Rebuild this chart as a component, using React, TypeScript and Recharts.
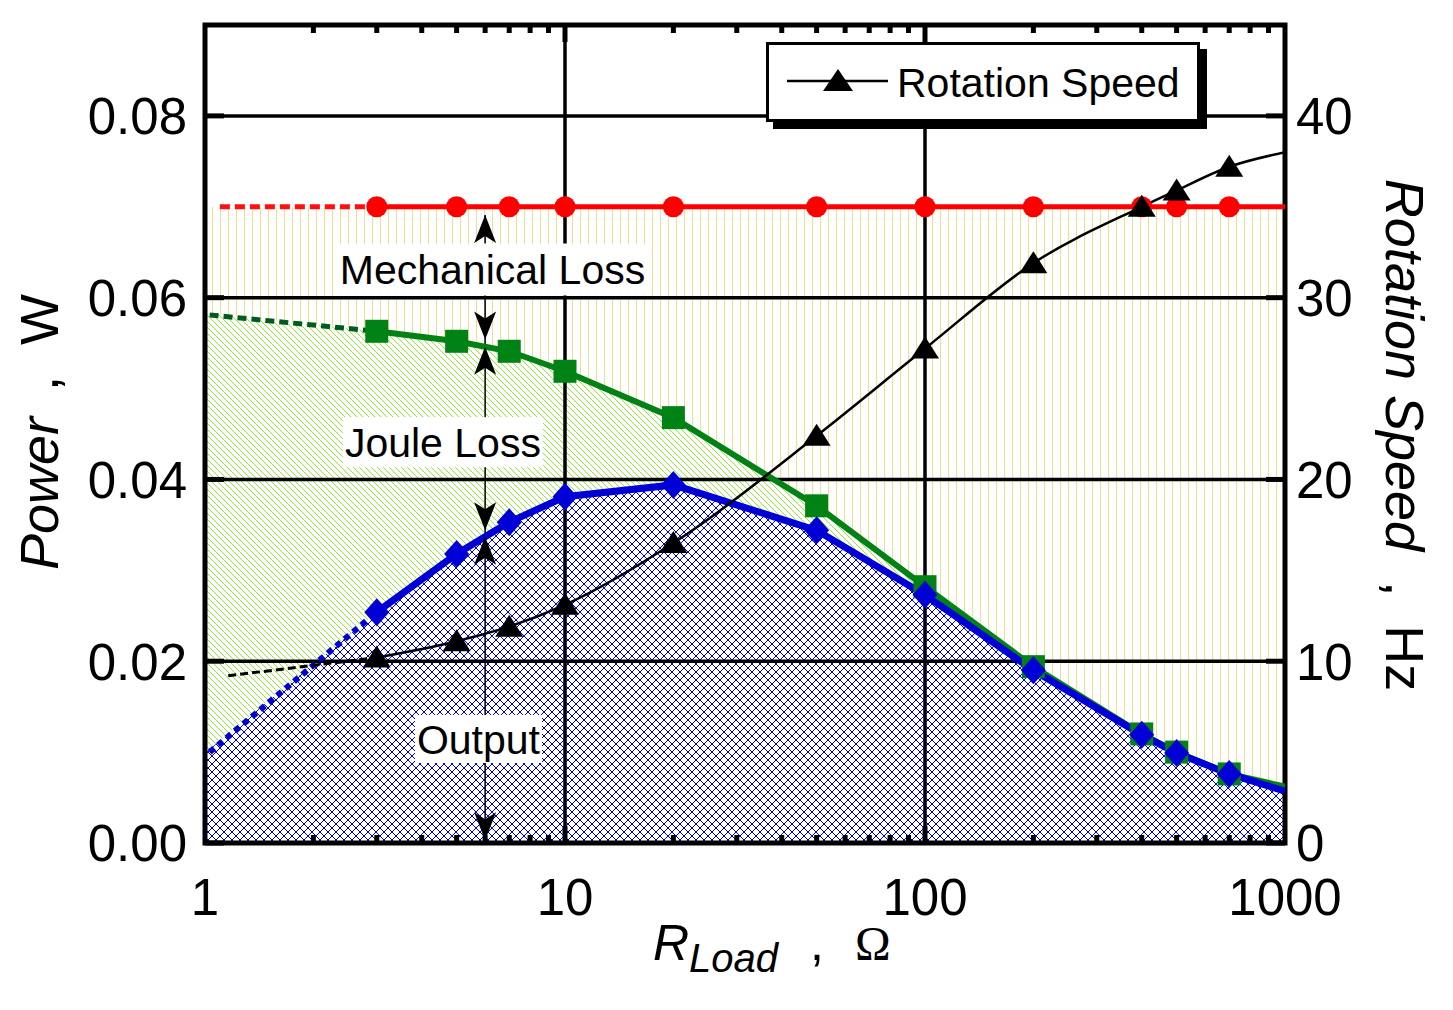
import React from "react"
import {
  ComposedChart,
  Area,
  Line,
  XAxis,
  YAxis,
  ReferenceLine,
  ReferenceArea,
  ReferenceDot,
  Legend,
  Label,
} from "recharts"

// measured load resistances, ohm
const rLoad = [3, 5, 7, 10, 20, 50, 100, 200, 400, 500, 700]
// input power, W (red)
const inputPower = [0.07, 0.07, 0.07, 0.07, 0.07, 0.07, 0.07, 0.07, 0.07, 0.07, 0.07]
// output + joule loss, W (green)
const outputJoule = [0.0563, 0.0552, 0.0541, 0.0519, 0.0468, 0.0371, 0.0282, 0.0194, 0.012, 0.01, 0.0076]
// output power, W (blue)
const outputPower = [0.0254, 0.0318, 0.0353, 0.0381, 0.0394, 0.0344, 0.0273, 0.019, 0.0119, 0.0099, 0.0076]
// rotation speed, Hz (black)
const rotationSpeed = [10.2, 11.1, 11.9, 13.1, 16.5, 22.4, 27.2, 31.9, 35.0, 35.9, 37.2]

// where the curves run into the right frame
const edgeR = 1000
const edgeInput = 0.07
const edgeOutputJoule = 0.0062
const edgeOutput = 0.0057
const edgeSpeed = 38.0

// extrapolated parts towards R = 1
const extInputR = [1.1, 3]
const extInput = [0.07, 0.07]
const extOutputJouleR = [1.03, 3]
const extOutputJoule = [0.0581, 0.0563]
const extOutputR = [1.03, 3]
const extOutput = [0.01, 0.0254]
const extSpeedR = [1.16, 3]
const extSpeed = [9.2, 10.2]

// shaded bands start at the left frame
const fillStartR = 1
const fillStartOutputJoule = 0.0583
const fillStartOutput = 0.0099

const xMajor = [1, 10, 100, 1000]
const xMinorSteps = [2, 3, 4, 5, 6, 7, 8, 9]
const powerTicks = [0, 0.02, 0.04, 0.06, 0.08]
const speedTicks = [0, 10, 20, 30, 40]
const powerGrid = [0.02, 0.04, 0.06, 0.08]
const rGrid = [10, 100]

// the double arrows at R = 6
const arrowR = 6
const arrowTop = 0.0691
const arrowBottom = 0.0003
const arrowTips = [
  { p: 0.0691, dir: "up" },
  { p: 0.0554, dir: "down" },
  { p: 0.0546, dir: "up" },
  { p: 0.0344, dir: "down" },
  { p: 0.0337, dir: "up" },
  { p: 0.0003, dir: "down" },
]

const notes = [
  { text: "Mechanical Loss", r: 6.29, p: 0.0631, w: 309, h: 52 },
  { text: "Joule Loss", r: 4.58, p: 0.0441, w: 200, h: 50 },
  { text: "Output", r: 5.75, p: 0.01144, w: 127, h: 48 },
]

const FONT = '"Liberation Sans", Arial, Helvetica, sans-serif'
const W = 1437
const H = 994
const TOP = 17
const LEFT_W = 197
const RIGHT_W = 160
const BOTTOM_H = 159
const PLOT_H = H - TOP - BOTTOM_H

const xTicks = [
  ...xMajor,
  ...xMajor.slice(0, 3).flatMap((d) => xMinorSteps.map((s) => s * d)),
].sort((a, b) => a - b)

const lineRows = [
  ...rLoad.map((r, i) => ({
    r,
    input: inputPower[i],
    green: outputJoule[i],
    blue: outputPower[i],
    speed: rotationSpeed[i],
    marked: true,
  })),
  { r: edgeR, input: edgeInput, green: edgeOutputJoule, blue: edgeOutput, speed: edgeSpeed, marked: false },
]

const fillRows = [
  { r: fillStartR, input: edgeInput, green: fillStartOutputJoule, blue: fillStartOutput },
  ...lineRows,
]

const extRows = (rs: number[], vs: number[]) => rs.map((r, i) => ({ r, v: vs[i] }))

const circleDot = (p: any) =>
  p.payload.marked ? <circle key={p.index} cx={p.cx} cy={p.cy} r={10.5} fill="#ff0000" /> : <g key={p.index} />

const squareDot = (p: any) =>
  p.payload.marked ? (
    <rect key={p.index} x={p.cx - 11.5} y={p.cy - 11.5} width={23} height={23} fill="#008214" />
  ) : (
    <g key={p.index} />
  )

const diamondDot = (p: any) =>
  p.payload.marked ? (
    <path
      key={p.index}
      d={`M${p.cx},${p.cy - 14} L${p.cx + 12.5},${p.cy} L${p.cx},${p.cy + 14} L${p.cx - 12.5},${p.cy} Z`}
      fill="#0000d6"
    />
  ) : (
    <g key={p.index} />
  )

const triangleDot = (p: any) =>
  p.payload.marked ? (
    <path
      key={p.index}
      d={`M${p.cx},${p.cy - 12} L${p.cx + 14},${p.cy + 10} L${p.cx - 14},${p.cy + 10} Z`}
      fill="#000"
    />
  ) : (
    <g key={p.index} />
  )

const XTick = ({ x, y, payload }: any) => {
  const v = payload.value
  const major = xMajor.includes(v)
  const len = major ? 17 : 8
  const edge = v === 1 || v === 1000
  return (
    <g>
      {!edge && <line x1={x} x2={x} y1={y} y2={y - len} stroke="#000" strokeWidth={5} />}
      {!edge && <line x1={x} x2={x} y1={y - PLOT_H} y2={y - PLOT_H + len} stroke="#000" strokeWidth={5} />}
      {major && (
        <text x={x} y={y + 72} textAnchor="middle" fontFamily={FONT} fontSize={51} fill="#000">
          {v}
        </text>
      )}
    </g>
  )
}

const PowerTick = ({ x, y, payload }: any) => (
  <g>
    <line x1={x} x2={x + 19} y1={y} y2={y} stroke="#000" strokeWidth={5} />
    <text x={x - 18} y={y} dy="0.36em" textAnchor="end" fontFamily={FONT} fontSize={51} fill="#000">
      {payload.value.toFixed(2)}
    </text>
  </g>
)

const SpeedTick = ({ x, y, payload }: any) => (
  <g>
    <line x1={x} x2={x - 19} y1={y} y2={y} stroke="#000" strokeWidth={5} />
    <text x={x + 11} y={y} dy="0.36em" textAnchor="start" fontFamily={FONT} fontSize={51} fill="#000">
      {payload.value}
    </text>
  </g>
)

const PowerTitle = (props: any) => {
  const vb = props.viewBox
  const cx = vb.x + 31
  const cy = vb.y + vb.height / 2 - 2
  return (
    <text
      x={cx}
      y={cy}
      transform={`rotate(-90, ${cx}, ${cy})`}
      textAnchor="middle"
      dominantBaseline="central"
      fontFamily={FONT}
      fontSize={54}
      fill="#000"
    >
      <tspan fontStyle="italic">Power</tspan>
      <tspan dx={26}>,</tspan>
      <tspan dx={31}>W</tspan>
    </text>
  )
}

const SpeedTitle = (props: any) => {
  const vb = props.viewBox
  const cx = vb.x + 120
  const cy = vb.y + vb.height / 2 + 1
  return (
    <text
      x={cx}
      y={cy}
      transform={`rotate(90, ${cx}, ${cy})`}
      textAnchor="middle"
      dominantBaseline="central"
      fontFamily={FONT}
      fontSize={54}
      fill="#000"
    >
      <tspan fontStyle="italic">Rotation Speed</tspan>
      <tspan dx={30}>,</tspan>
      <tspan dx={29}>Hz</tspan>
    </text>
  )
}

const LoadTitle = (props: any) => {
  const vb = props.viewBox
  return (
    <text x={vb.x + 448} y={vb.y + 117} fontFamily={FONT} fill="#000">
      <tspan fontStyle="italic" fontSize={50}>R</tspan>
      <tspan fontStyle="italic" fontSize={40} dy={12}>Load</tspan>
      <tspan fontSize={50} dx={32} dy={-12}>,</tspan>
      <tspan fontFamily='"Liberation Serif", "Times New Roman", serif' fontSize={48} dx={31}>
        Ω
      </tspan>
    </text>
  )
}

const ArrowHead = ({ cx, cy, dir }: any) => {
  const s = dir === "up" ? 1 : -1
  return (
    <path
      d={`M${cx},${cy} L${cx + 11},${cy + s * 28} L${cx},${cy + s * 21} L${cx - 11},${cy + s * 28} Z`}
      fill="#000"
    />
  )
}

const NoteBox = ({ cx, cy, text, w, h }: any) => (
  <g>
    <rect x={cx - w / 2} y={cy - h / 2} width={w} height={h} fill="#fff" />
    <text x={cx} y={cy} dy="0.36em" textAnchor="middle" fontFamily={FONT} fontSize={41} fill="#000">
      {text}
    </text>
  </g>
)

const SpeedLegend = () => (
  <div
    style={{
      width: 434,
      height: 80,
      boxSizing: "border-box",
      border: "3px solid #000",
      background: "#fff",
      boxShadow: "7px 7px 0 #000",
    }}
  >
    <svg width={428} height={74} style={{ display: "block" }}>
      <line x1={18} x2={119} y1={36} y2={36} stroke="#000" strokeWidth={2.5} />
      <path d="M69,24 L84,46 L54,46 Z" fill="#000" />
      <text x={128} y={52} fontFamily={FONT} fontSize={41} fill="#000">
        Rotation Speed
      </text>
    </svg>
  </div>
)

export default function App() {
  return (
    <div style={{ width: W, height: H }}>
      <ComposedChart width={W} height={H} margin={{ top: TOP, right: 0, bottom: 0, left: 0 }}>
        <defs>
          <pattern id="hatchYellow" patternUnits="userSpaceOnUse" width={8} height={8}>
            <rect x={4} y={0} width={1} height={8} fill="#f5db8c" />
          </pattern>
          <pattern id="hatchGreen" patternUnits="userSpaceOnUse" width={6} height={6}>
            <path
              d="M-1,-1 L7,7 M-1,5 L1,7 M5,-1 L7,1"
              stroke="#8cef2c"
              strokeWidth={1}
              shapeRendering="crispEdges"
            />
          </pattern>
          <pattern id="hatchBlue" patternUnits="userSpaceOnUse" width={8} height={8}>
            <path
              d="M-1,-1 L9,9 M-1,7 L1,9 M7,-1 L9,1 M-1,9 L9,-1 M-1,1 L1,-1 M7,9 L9,7"
              stroke="#0000e0"
              strokeWidth={1}
              shapeRendering="crispEdges"
            />
          </pattern>
        </defs>

        <XAxis
          dataKey="r"
          type="number"
          scale="log"
          domain={[1, 1000]}
          ticks={xTicks}
          interval={0}
          height={BOTTOM_H}
          axisLine={false}
          tickLine={false}
          tickSize={0}
          tickMargin={0}
          tick={<XTick />}
          allowDataOverflow
        >
          <Label content={<LoadTitle />} />
        </XAxis>
        <YAxis
          yAxisId="p"
          orientation="left"
          type="number"
          domain={[0, 0.09]}
          ticks={powerTicks}
          interval={0}
          width={LEFT_W}
          axisLine={false}
          tickLine={false}
          tickSize={0}
          tickMargin={0}
          tick={<PowerTick />}
          allowDataOverflow
        >
          <Label content={<PowerTitle />} />
        </YAxis>
        <YAxis
          yAxisId="s"
          orientation="right"
          type="number"
          domain={[0, 45]}
          ticks={speedTicks}
          interval={0}
          width={RIGHT_W}
          axisLine={false}
          tickLine={false}
          tickSize={0}
          tickMargin={0}
          tick={<SpeedTick />}
          allowDataOverflow
        >
          <Label content={<SpeedTitle />} />
        </YAxis>

        <Area
          yAxisId="p"
          data={fillRows}
          dataKey={(d: any) => [d.green, d.input]}
          type="linear"
          stroke="none"
          fill="url(#hatchYellow)"
          fillOpacity={1}
          isAnimationActive={false}
        />
        <Area
          yAxisId="p"
          data={fillRows}
          dataKey={(d: any) => [d.blue, d.green]}
          type="linear"
          stroke="none"
          fill="url(#hatchGreen)"
          fillOpacity={1}
          isAnimationActive={false}
        />
        <Area
          yAxisId="p"
          data={fillRows}
          dataKey={(d: any) => [0, d.blue]}
          type="linear"
          stroke="none"
          fill="url(#hatchBlue)"
          fillOpacity={1}
          isAnimationActive={false}
        />

        {rGrid.map((r) => (
          <ReferenceLine key={`gx${r}`} yAxisId="p" x={r} stroke="#000" strokeWidth={3.5} />
        ))}
        {powerGrid.map((p) => (
          <ReferenceLine key={`gy${p}`} yAxisId="p" y={p} stroke="#000" strokeWidth={3.5} />
        ))}

        <ReferenceLine
          yAxisId="p"
          segment={[
            { x: arrowR, y: arrowTop },
            { x: arrowR, y: arrowBottom },
          ]}
          stroke="#000"
          strokeWidth={1.5}
        />
        {arrowTips.map((a, i) => (
          <ReferenceDot
            key={`ar${i}`}
            yAxisId="p"
            x={arrowR}
            y={a.p}
            r={1}
            shape={(props: any) => <ArrowHead {...props} dir={a.dir} />}
          />
        ))}
        {notes.map((n) => (
          <ReferenceDot
            key={n.text}
            yAxisId="p"
            x={n.r}
            y={n.p}
            r={1}
            shape={(props: any) => <NoteBox {...props} text={n.text} w={n.w} h={n.h} />}
          />
        ))}

        <Line
          yAxisId="p"
          data={extRows(extInputR, extInput)}
          dataKey="v"
          stroke="#ff1010"
          strokeWidth={5}
          strokeDasharray="10 5"
          dot={false}
          isAnimationActive={false}
        />
        <Line
          yAxisId="p"
          data={extRows(extOutputJouleR, extOutputJoule)}
          dataKey="v"
          stroke="#005c1e"
          strokeWidth={5}
          strokeDasharray="9 5"
          dot={false}
          isAnimationActive={false}
        />
        <Line
          yAxisId="p"
          data={extRows(extOutputR, extOutput)}
          dataKey="v"
          stroke="#0000d6"
          strokeWidth={6}
          strokeDasharray="6 5"
          dot={false}
          isAnimationActive={false}
        />
        <Line
          yAxisId="s"
          data={extRows(extSpeedR, extSpeed)}
          dataKey="v"
          stroke="#000"
          strokeWidth={3}
          strokeDasharray="8 4"
          dot={false}
          isAnimationActive={false}
        />

        <Line
          yAxisId="p"
          data={lineRows}
          dataKey="input"
          type="linear"
          stroke="#ff0000"
          strokeWidth={5}
          dot={circleDot}
          isAnimationActive={false}
        />
        <Line
          yAxisId="p"
          data={lineRows}
          dataKey="green"
          type="linear"
          stroke="#008214"
          strokeWidth={6}
          dot={squareDot}
          isAnimationActive={false}
        />
        <Line
          yAxisId="p"
          data={lineRows}
          dataKey="blue"
          type="linear"
          stroke="#0000d6"
          strokeWidth={7}
          dot={diamondDot}
          isAnimationActive={false}
        />
        <Line
          yAxisId="s"
          data={lineRows}
          dataKey="speed"
          type="monotone"
          stroke="#000"
          strokeWidth={2.5}
          dot={triangleDot}
          isAnimationActive={false}
        />

        <ReferenceArea
          yAxisId="p"
          x1={1}
          x2={1000}
          y1={0}
          y2={0.09}
          fill="none"
          fillOpacity={0}
          stroke="#000"
          strokeWidth={5}
        />

        <Legend
          layout="horizontal"
          verticalAlign="middle"
          align="center"
          wrapperStyle={{ left: 758, top: 34, width: 434, height: 80 }}
          content={() => <SpeedLegend />}
        />
      </ComposedChart>
    </div>
  )
}
